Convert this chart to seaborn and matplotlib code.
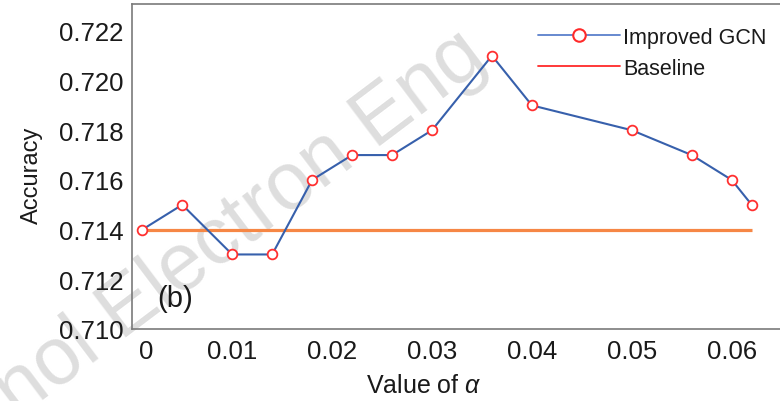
import matplotlib
matplotlib.use("Agg")
import matplotlib.pyplot as plt
import matplotlib.transforms as mtransforms
from matplotlib.lines import Line2D
import seaborn as sns
import pandas as pd

# Sensitivity of accuracy to the weighting coefficient alpha
alpha_values = [0.001, 0.005, 0.010, 0.014, 0.018, 0.022, 0.026, 0.030,
                0.036, 0.040, 0.050, 0.056, 0.060, 0.062]
improved_acc = [0.714, 0.715, 0.713, 0.713, 0.716, 0.717, 0.717, 0.718,
                0.721, 0.719, 0.718, 0.717, 0.716, 0.715]
baseline_acc = 0.714

x_ticks = [0.0, 0.01, 0.02, 0.03, 0.04, 0.05, 0.06]
x_tick_labels = ["0", "0.01", "0.02", "0.03", "0.04", "0.05", "0.06"]
y_ticks = [0.710, 0.712, 0.714, 0.716, 0.718, 0.720, 0.722]
y_tick_labels = ["0.710", "0.712", "0.714", "0.716", "0.718", "0.720", "0.722"]

sns.set_theme(style="white")
plt.rcParams["font.family"] = ["Liberation Sans", "DejaVu Sans"]
plt.rcParams["mathtext.fontset"] = "custom"
plt.rcParams["mathtext.it"] = "Liberation Sans:italic"

W, H = 780, 402
fig = plt.figure(figsize=(W / 100, H / 100), dpi=100)
left_px, top_px, bottom_px, right_px = 132.3, 5.0, 330.0, 785.0
ax = fig.add_axes([left_px / W, (H - bottom_px) / H,
                   (right_px - left_px) / W, (bottom_px - top_px) / H])
ax.set_facecolor("none")

# faint journal watermark behind the plot
fig.text(-0.215, -0.39, "J Technol Electron Eng", rotation=37,
         rotation_mode="anchor", ha="left", va="baseline",
         fontsize=58, color="#dedede", zorder=-1)

df = pd.DataFrame({"alpha": alpha_values, "acc": improved_acc})
ax.plot([alpha_values[0], alpha_values[-1]], [baseline_acc, baseline_acc],
        color="#f68745", lw=2.3, zorder=2, solid_capstyle="butt")
sns.lineplot(data=df, x="alpha", y="acc", ax=ax, color="#3760ac", lw=1.5,
             marker="o", markersize=7, markerfacecolor="white",
             markeredgecolor="#ff3030", markeredgewidth=1.3, zorder=3)

ax.set_xlim(0, (right_px - left_px) / 9990.0)
ax.set_ylim(0.710, 0.72308)
ax.set_xticks(x_ticks)
ax.set_xticklabels(x_tick_labels)
ax.set_yticks(y_ticks)
ax.set_yticklabels(y_tick_labels)
ax.tick_params(axis="both", labelsize=18.5, length=2.5, width=0.9,
               color="#666666", labelcolor="#1a1a1a", direction="out")
ax.tick_params(axis="y", pad=4)
ax.tick_params(axis="x", pad=5)
# the zero label sits slightly right of the origin
offset = mtransforms.ScaledTranslation(14 / 100, 0, fig.dpi_scale_trans)
lbl0 = ax.get_xticklabels()[0]
lbl0.set_transform(lbl0.get_transform() + offset)

for side in ["left", "bottom", "top"]:
    ax.spines[side].set_color("#7a7a7a")
    ax.spines[side].set_linewidth(1.2)
ax.spines["right"].set_visible(False)

ax.set_xlabel(r"Value of $\it{\alpha}$", fontsize=18, color="#1a1a1a", labelpad=7)
ax.xaxis.label.set_x((424 - left_px) / (right_px - left_px))
ax.set_ylabel("Accuracy", fontsize=17, color="#1a1a1a")
ax.yaxis.set_label_coords(-(left_px - 43) / (right_px - left_px),
                          (bottom_px - 175) / (bottom_px - top_px))

ax.text((157 - left_px) / (right_px - left_px), (bottom_px - 299) / (bottom_px - top_px),
        "(b)", transform=ax.transAxes, fontsize=21, color="#1a1a1a",
        ha="left", va="center")

handles = [
    Line2D([], [], color="#5b80cc", lw=1.3, marker="o", markersize=9,
           markerfacecolor="white", markeredgecolor="#ff2a2a", markeredgewidth=1.5),
    Line2D([], [], color="#ff2a2a", lw=1.3),
]
leg = ax.legend(handles, ["Improved GCN", "Baseline"], frameon=False,
                fontsize=15.5, handlelength=3.8, handletextpad=0.15,
                labelspacing=0.45, borderaxespad=0, borderpad=0,
                loc="upper left",
                bbox_to_anchor=((538 - left_px) / (right_px - left_px),
                                (bottom_px - 28) / (bottom_px - top_px)))
for t in leg.get_texts():
    t.set_color("#1a1a1a")

fig.savefig("out.png", dpi=100)
